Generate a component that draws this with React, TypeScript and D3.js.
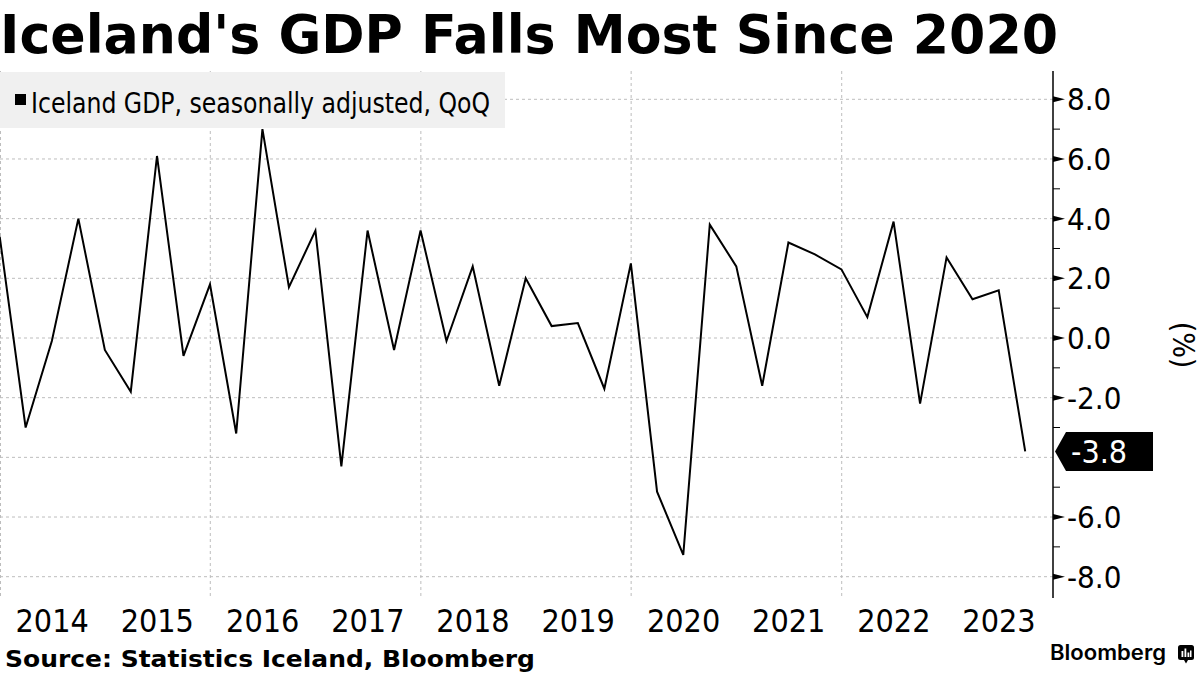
import React from "react";
import * as d3 from "d3";

const quarters: string[] = [
  "2013-12-31","2014-03-31","2014-06-30","2014-09-30","2014-12-31",
  "2015-03-31","2015-06-30","2015-09-30","2015-12-31",
  "2016-03-31","2016-06-30","2016-09-30","2016-12-31",
  "2017-03-31","2017-06-30","2017-09-30","2017-12-31",
  "2018-03-31","2018-06-30","2018-09-30","2018-12-31",
  "2019-03-31","2019-06-30","2019-09-30","2019-12-31",
  "2020-03-31","2020-06-30","2020-09-30","2020-12-31",
  "2021-03-31","2021-06-30","2021-09-30","2021-12-31",
  "2022-03-31","2022-06-30","2022-09-30","2022-12-31",
  "2023-03-31","2023-06-30","2023-09-30",
];
const gdpQoQ: number[] = [
  3.4, -3.0, -0.1, 4.0, -0.4,
  -1.8, 6.1, -0.6, 1.8,
  -3.2, 7.0, 1.7, 3.6,
  -4.3, 3.6, -0.4, 3.6,
  -0.1, 2.4, -1.6, 2.0,
  0.4, 0.5, -1.7, 2.5,
  -5.15, -7.27, 3.8, 2.4,
  -1.6, 3.2, 2.8, 2.3,
  0.7, 3.9, -2.2, 2.7,
  1.3, 1.6, -3.8,
];
const yearLabels: number[] = [2014, 2015, 2016, 2017, 2018, 2019, 2020, 2021, 2022, 2023];
const gridYears: number[] = [2014, 2016, 2018, 2020, 2022];
const majorTicks: number[] = [8, 6, 4, 2, 0, -2, -4, -6, -8];
const minorTicks: number[] = [7, 5, 3, 1, -1, -3, -5, -7];
const lastValue = -3.8;

const title = "Iceland's GDP Falls Most Since 2020";
const legendLabel = "Iceland GDP, seasonally adjusted, QoQ";
const sourceText = "Source: Statistics Iceland, Bloomberg";

const NARROW = "'DejaVu Sans Condensed', 'Liberation Sans Narrow', 'DejaVu Sans', sans-serif";
const BOLD = "'DejaVu Sans', Verdana, sans-serif";

export default function App() {
  const parse = d3.utcParse("%Y-%m-%d");
  const x = d3
    .scaleUtc()
    .domain([new Date(Date.UTC(2014, 0, 1)), new Date(Date.UTC(2024, 0, 1))])
    .range([0, 1052]);
  const y = d3.scaleLinear().domain([-8, 8]).range([576.7, 99.3]);
  const axisX = 1053;
  const top = 71;
  const bottom = 598;

  const pts = quarters.map((q, i) => ({ d: parse(q) as Date, v: gdpQoQ[i] }));
  const line = d3
    .line<{ d: Date; v: number }>()
    .x((p) => x(p.d))
    .y((p) => y(p.v));

  const ly = y(lastValue);

  return (
    <div style={{ position: "absolute", left: 0, top: 0 }}>
      <svg width={1200} height={675} style={{ display: "block", background: "#fff" }}>
        <text
          x={0}
          y={53}
          fontFamily={BOLD}
          fontWeight="bold"
          fontSize={53}
          textLength={1058}
          lengthAdjust="spacingAndGlyphs"
          fill="#000"
        >
          {title}
        </text>

        {/* horizontal grid */}
        {majorTicks.map((t) => (
          <line
            key={"h" + t}
            x1={0}
            x2={axisX}
            y1={y(t)}
            y2={y(t)}
            stroke="#bdbdbd"
            strokeWidth={1}
            strokeDasharray="3,3"
          />
        ))}
        {/* vertical grid */}
        {gridYears.map((yr) => {
          const gx = Math.max(0.5, x(new Date(Date.UTC(yr, 0, 1))));
          return (
            <line
              key={"v" + yr}
              x1={gx}
              x2={gx}
              y1={top}
              y2={bottom}
              stroke="#bdbdbd"
              strokeWidth={1}
              strokeDasharray="3,3"
            />
          );
        })}

        {/* legend */}
        <rect x={0} y={72} width={505} height={56} fill="#f0f0f0" />
        <rect x={15} y={94} width={11} height={11} fill="#000" />
        <text
          x={31}
          y={113}
          fontFamily={NARROW}
          fontSize={29}
          textLength={459}
          lengthAdjust="spacingAndGlyphs"
          fill="#000"
        >
          {legendLabel}
        </text>

        {/* data line */}
        <path d={line(pts) || ""} fill="none" stroke="#000" strokeWidth={2} strokeLinejoin="miter" />

        {/* right axis */}
        <line x1={axisX} x2={axisX} y1={top} y2={bottom} stroke="#000" strokeWidth={1.5} />
        {minorTicks.map((t) => (
          <line key={"m" + t} x1={axisX} x2={axisX + 7} y1={y(t)} y2={y(t)} stroke="#000" strokeWidth={1} />
        ))}
        {majorTicks
          .filter((t) => t !== -4)
          .map((t) => (
            <g key={"t" + t}>
              <path
                d={`M${axisX},${y(t) - 3}L${axisX + 12},${y(t)}L${axisX},${y(t) + 3}Z`}
                fill="#000"
              />
              <text
                x={1067}
                y={y(t)}
                dy="0.36em"
                fontFamily={NARROW}
                fontSize={31}
                fill="#000"
              >
                {t.toFixed(1)}
              </text>
            </g>
          ))}

        {/* last value label */}
        <path
          d={`M${axisX + 2},${ly}L${axisX + 13},${ly - 19.5}L1153,${ly - 19.5}L1153,${ly + 19.5}L${axisX + 13},${ly + 19.5}Z`}
          fill="#000"
        />
        <text x={1071} y={ly} dy="0.36em" fontFamily={NARROW} fontSize={32} fill="#fff">
          {lastValue.toFixed(1)}
        </text>

        {/* unit label */}
        <text
          transform={`translate(1173,345) rotate(90)`}
          textAnchor="middle"
          fontFamily={NARROW}
          fontSize={30}
          fill="#000"
        >
          (%)
        </text>

        {/* year labels */}
        {yearLabels.map((yr) => (
          <text
            key={"y" + yr}
            x={x(new Date(Date.UTC(yr, 6, 1)))}
            y={632}
            textAnchor="middle"
            fontFamily={NARROW}
            fontSize={32}
            fill="#000"
          >
            {yr}
          </text>
        ))}

        {/* source */}
        <text
          x={5}
          y={667}
          fontFamily={BOLD}
          fontWeight="bold"
          fontSize={23}
          textLength={530}
          lengthAdjust="spacingAndGlyphs"
          fill="#000"
        >
          {sourceText}
        </text>

        {/* Bloomberg logo */}
        <text
          x={1050}
          y={660}
          fontFamily="Inter, Roboto, 'Open Sans', sans-serif"
          fontWeight={600}
          fontSize={21}
          textLength={116}
          lengthAdjust="spacingAndGlyphs"
          fill="#000"
        >
          Bloomberg
        </text>
        <g transform="translate(1178,645)">
          <rect x={0} y={0} width={16} height={15} rx={2.5} fill="#000" />
          <path d="M6,15L8,18.5L10,15Z" fill="#000" />
          <rect x={3.5} y={6} width={1.8} height={6} fill="#fff" />
          <rect x={6.5} y={3.5} width={1.8} height={8.5} fill="#fff" />
          <rect x={9.5} y={7.5} width={1.8} height={4.5} fill="#fff" />
          <rect x={12} y={5.5} width={1.5} height={6.5} fill="#fff" />
        </g>
      </svg>
    </div>
  );
}
